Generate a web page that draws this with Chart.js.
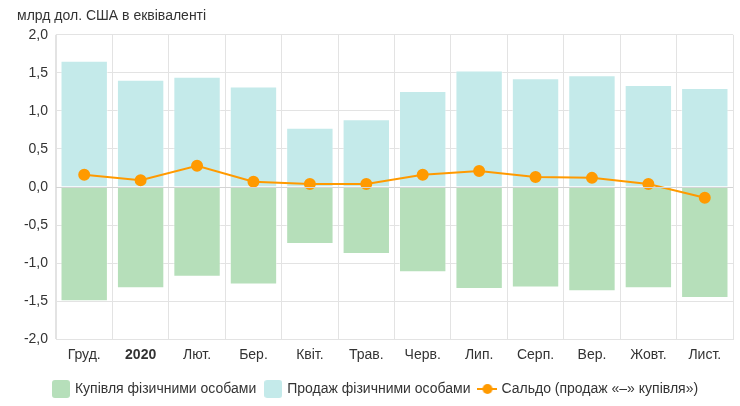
<!DOCTYPE html>
<html>
<head>
<meta charset="utf-8">
<script src="https://cdn.jsdelivr.net/npm/chart.js@4/dist/chart.umd.min.js"></script>
<style>
  body { margin: 0; background: #fff; }
  #chart { display: block; }
</style>
</head>
<body>
<canvas id="chart" width="740" height="406"></canvas>
<script>
const months = ["Груд.", "2020", "Лют.", "Бер.", "Квіт.", "Трав.", "Черв.", "Лип.", "Серп.", "Вер.", "Жовт.", "Лист."];
const purchases = [-1.50, -1.33, -1.18, -1.28, -0.75, -0.88, -1.12, -1.34, -1.32, -1.37, -1.33, -1.46];
const sales = [1.66, 1.41, 1.45, 1.32, 0.78, 0.89, 1.26, 1.53, 1.43, 1.47, 1.34, 1.30];
const balance = [0.16, 0.09, 0.28, 0.07, 0.04, 0.04, 0.16, 0.21, 0.13, 0.12, 0.04, -0.14];

const greenColor = "#b6dfba";
const blueColor = "#c4eaea";
const orangeColor = "#ff9a00";
const font = "'Liberation Sans', Arial, sans-serif";

// legend icons
function boxIcon(color) {
  const c = document.createElement("canvas");
  c.width = 18; c.height = 18;
  const g = c.getContext("2d");
  g.fillStyle = color;
  g.beginPath();
  g.roundRect(0, 0, 18, 18, 3);
  g.fill();
  return c;
}
function lineIcon(color) {
  const c = document.createElement("canvas");
  c.width = 20; c.height = 12;
  const g = c.getContext("2d");
  g.strokeStyle = color;
  g.lineWidth = 2;
  g.beginPath();
  g.moveTo(0, 6); g.lineTo(20, 6);
  g.stroke();
  g.fillStyle = color;
  g.beginPath();
  g.arc(10, 6, 5, 0, Math.PI * 2);
  g.fill();
  return c;
}
const icons = [boxIcon(greenColor), boxIcon(blueColor), lineIcon(orangeColor)];

// zero line drawn over the bars
const zeroLine = {
  id: "zeroLine",
  afterDatasetsDraw(chart) {
    const y = chart.scales.y.getPixelForValue(0);
    const a = chart.chartArea;
    const ctx = chart.ctx;
    ctx.save();
    ctx.strokeStyle = "#d4d4d4";
    ctx.lineWidth = 1;
    ctx.beginPath();
    ctx.moveTo(a.left, y + 0.5);
    ctx.lineTo(a.right, y + 0.5);
    ctx.stroke();
    ctx.restore();
  }
};

const ctx = document.getElementById("chart").getContext("2d");
new Chart(ctx, {
  type: "bar",
  data: {
    labels: months,
    datasets: [
      {
        label: "Купівля фізичними особами",
        data: purchases,
        backgroundColor: greenColor,
        borderColor: "rgba(255,255,255,0.5)",
        borderWidth: 1,
        categoryPercentage: 0.84,
        barPercentage: 1,
        order: 2
      },
      {
        label: "Продаж фізичними особами",
        data: sales,
        backgroundColor: blueColor,
        borderColor: "rgba(255,255,255,0.5)",
        borderWidth: 1,
        categoryPercentage: 0.84,
        barPercentage: 1,
        order: 2
      },
      {
        type: "line",
        label: "Сальдо (продаж «–» купівля»)",
        data: balance,
        borderColor: orangeColor,
        backgroundColor: orangeColor,
        borderWidth: 2,
        pointRadius: 5,
        pointHoverRadius: 5,
        tension: 0,
        order: 1
      }
    ]
  },
  options: {
    responsive: false,
    animation: false,
    devicePixelRatio: 1,
    layout: { padding: { left: 17, right: 5, top: 8, bottom: 0 } },
    scales: {
      x: {
        stacked: true,
        grid: { color: "#e3e3e3", drawTicks: false },
        border: { color: "#e3e3e3" },
        ticks: {
          padding: 8,
          color: "#333",
          font: (c) => ({ family: font, size: 14, weight: c.index === 1 ? "bold" : "normal" })
        }
      },
      y: {
        min: -2,
        max: 2,
        grid: { color: "#e3e3e3", drawTicks: false },
        border: { color: "#e3e3e3" },
        afterFit: (s) => { s.width = 39; },
        ticks: {
          stepSize: 0.5,
          padding: 8,
          color: "#333",
          font: { family: font, size: 14 },
          callback: (v) => v.toFixed(1).replace(".", ",")
        }
      }
    },
    plugins: {
      title: {
        display: true,
        text: "млрд дол. США в еквіваленті",
        align: "start",
        color: "#333",
        font: { family: font, size: 14, weight: "normal" },
        padding: { top: 0, bottom: 10 }
      },
      legend: {
        position: "bottom",
        labels: {
          usePointStyle: true,
          boxWidth: 18,
          boxHeight: 18,
          padding: 10,
          color: "#333",
          font: { family: font, size: 14 },
          sort: (a, b) => a.datasetIndex - b.datasetIndex,
          generateLabels: (chart) => {
            const items = Chart.defaults.plugins.legend.labels.generateLabels(chart);
            items.forEach((it) => { it.pointStyle = icons[it.datasetIndex]; });
            return items;
          }
        }
      },
      tooltip: { enabled: false }
    }
  },
  plugins: [zeroLine]
});
</script>
</body>
</html>
